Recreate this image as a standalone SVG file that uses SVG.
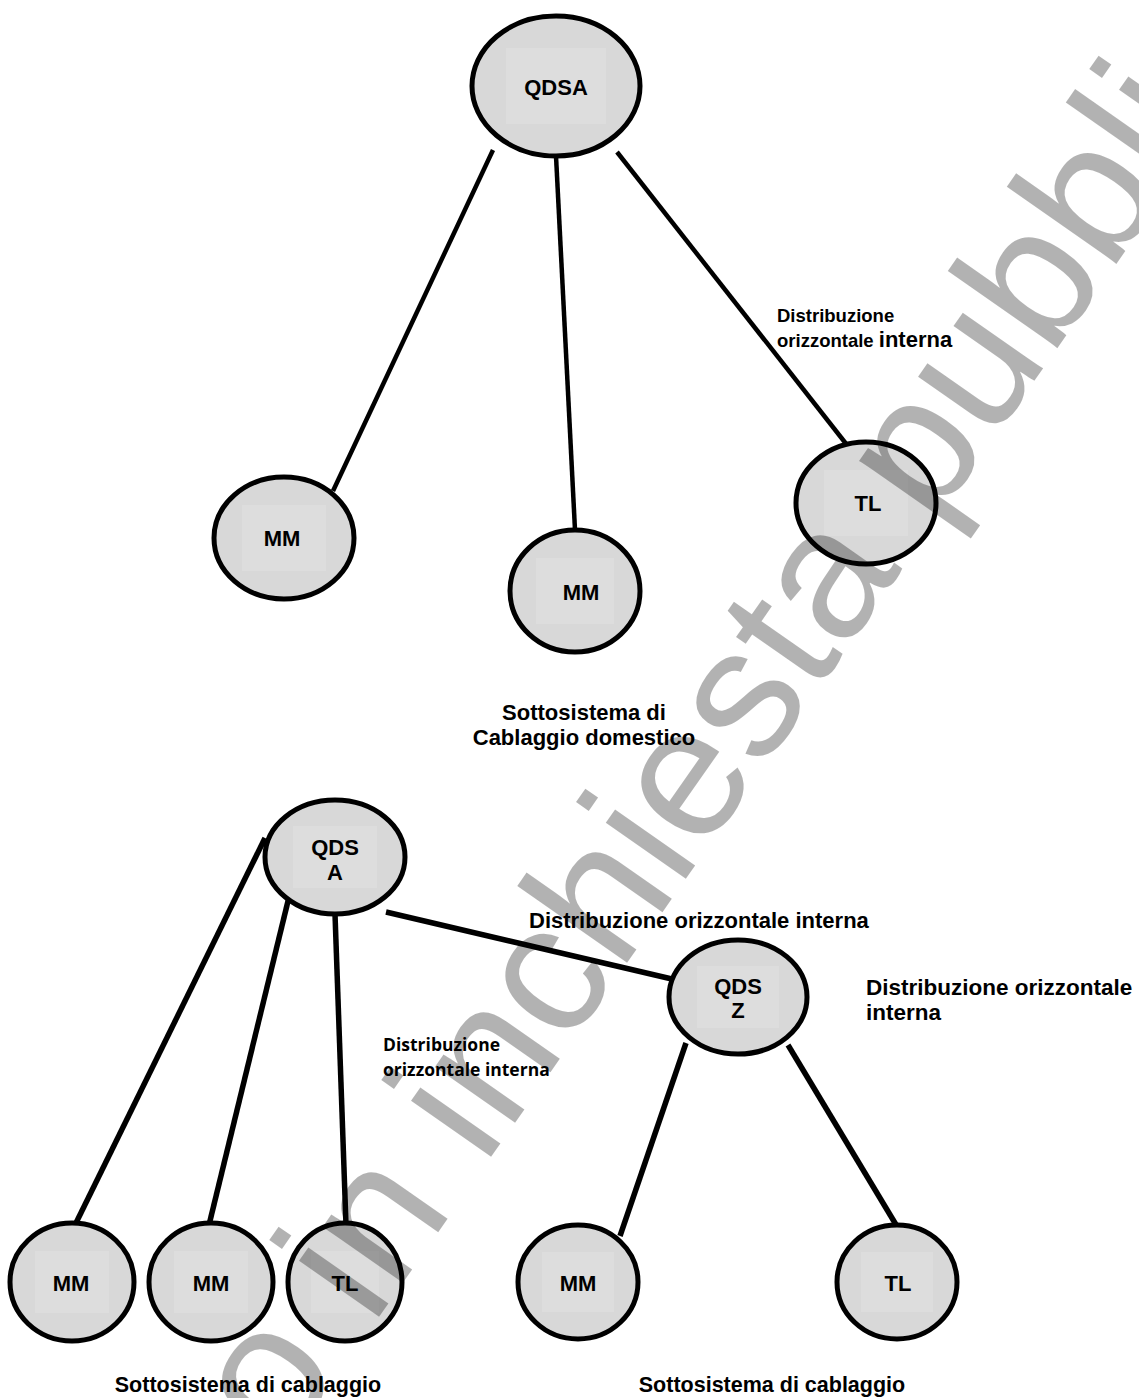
<svg xmlns="http://www.w3.org/2000/svg" width="1139" height="1398" viewBox="0 0 1139 1398">
<style>
.node ellipse{fill:#d8d8d8;stroke:#000;stroke-width:5}
.node rect{fill:#dddddd}
.lbl{font-family:"Liberation Sans",Arial,sans-serif;font-weight:bold;font-size:22px;fill:#000;text-anchor:middle}
.txt{font-family:"Liberation Sans",Arial,sans-serif;font-weight:bold;fill:#000}
.cal{font-family:"Open Sans","Noto Sans",sans-serif;font-weight:bold;fill:#000;font-size:17.5px}
#connectors line{stroke:#000;stroke-linecap:butt}
.thin{stroke-width:4.5}
.thick{stroke-width:5.5}
.wm{font-family:"Liberation Sans",Arial,sans-serif;font-size:185px;fill:#000;fill-opacity:0.3}
</style>
<rect width="1139" height="1398" fill="#fff"/>
<g id="connectors">
<line class="thin" x1="493" y1="150" x2="333" y2="491"/>
<line class="thin" x1="556" y1="156" x2="575" y2="530"/>
<line class="thin" x1="617" y1="152" x2="847" y2="445"/>
<line class="thick" x1="265" y1="838" x2="75" y2="1225"/>
<line class="thick" x1="289" y1="897" x2="209" y2="1225"/>
<line class="thick" x1="335" y1="914" x2="346" y2="1225"/>
<line class="thick" x1="386" y1="912" x2="689" y2="983"/>
<line class="thick" x1="686" y1="1043" x2="620" y2="1236"/>
<line class="thick" x1="788" y1="1045" x2="898" y2="1228"/>
</g>
<g id="n-qdsa" class="node"><ellipse cx="556" cy="86" rx="84" ry="70"/><rect x="506" y="48" width="100" height="76"/><text class="lbl" x="556" y="95">QDSA</text></g>
<g id="n-mm1" class="node"><ellipse cx="284" cy="538" rx="70" ry="61"/><rect x="242" y="505" width="84" height="66"/><text class="lbl" x="282" y="546">MM</text></g>
<g id="n-mm2" class="node"><ellipse cx="575" cy="591" rx="65" ry="61"/><rect x="536" y="558" width="78" height="66"/><text class="lbl" x="581" y="600">MM</text></g>
<g id="n-tl1" class="node"><ellipse cx="866" cy="503" rx="70" ry="61"/><rect x="824" y="470" width="84" height="66"/><text class="lbl" x="868" y="511">TL</text></g>
<g id="n-qdsa2" class="node"><ellipse cx="335" cy="857" rx="70" ry="57"/><rect x="293" y="826" width="84" height="62"/><text class="lbl" x="335" y="855">QDS</text><text class="lbl" x="335" y="880">A</text></g>
<g id="n-mm3" class="node"><ellipse cx="72" cy="1282" rx="62" ry="59"/><rect x="35" y="1251" width="74" height="62"/><text class="lbl" x="71" y="1291">MM</text></g>
<g id="n-mm4" class="node"><ellipse cx="211" cy="1282" rx="62" ry="59"/><rect x="174" y="1251" width="74" height="62"/><text class="lbl" x="211" y="1291">MM</text></g>
<g id="n-tl3" class="node"><ellipse cx="345" cy="1282" rx="57" ry="59"/><rect x="311" y="1251" width="68" height="62"/><text class="lbl" x="345" y="1291">TL</text></g>
<g id="n-qdsz" class="node"><ellipse cx="738" cy="997" rx="69" ry="57"/><rect x="697" y="966" width="82" height="62"/><text class="lbl" x="738" y="994">QDS</text><text class="lbl" x="738" y="1018">Z</text></g>
<g id="n-mm5" class="node"><ellipse cx="578" cy="1282" rx="60" ry="57"/><rect x="542" y="1252" width="72" height="60"/><text class="lbl" x="578" y="1291">MM</text></g>
<g id="n-tl5" class="node"><ellipse cx="897" cy="1282" rx="60" ry="57"/><rect x="861" y="1252" width="72" height="60"/><text class="lbl" x="898" y="1291">TL</text></g>
<g id="labels">
<text class="txt" x="777" y="322" font-size="18.5">Distribuzione</text>
<text class="txt" x="777" y="347" font-size="18.5">orizzontale <tspan font-size="22">interna</tspan></text>
<text class="txt" x="584" y="720" font-size="22" text-anchor="middle">Sottosistema di</text>
<text class="txt" x="584" y="745" font-size="22" text-anchor="middle">Cablaggio domestico</text>
<text class="txt" x="529" y="928" font-size="22">Distribuzione orizzontale interna</text>
<text class="cal" x="383" y="1051">Distribuzione</text>
<text class="cal" x="383" y="1076">orizzontale interna</text>
<text class="txt" x="866" y="995" font-size="22.5">Distribuzione orizzontale</text>
<text class="txt" x="866" y="1020" font-size="22.5">interna</text>
<text class="txt" x="248" y="1392" font-size="21.5" text-anchor="middle">Sottosistema di cablaggio</text>
<text class="txt" x="772" y="1392" font-size="21.5" text-anchor="middle">Sottosistema di cablaggio</text>
</g>
<text class="wm" transform="translate(484,1167) rotate(-55)" x="-946" y="0">Progetto in inchiesta pubblica</text>
</svg>
